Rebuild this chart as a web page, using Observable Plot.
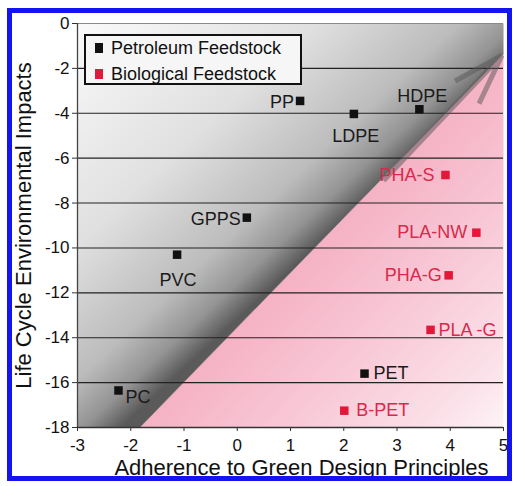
<!DOCTYPE html>
<html>
<head>
<meta charset="utf-8">
<script src="https://cdn.jsdelivr.net/npm/d3@7"></script>
<script src="https://cdn.jsdelivr.net/npm/@observablehq/plot@0.6"></script>
<style>
  html, body { margin: 0; padding: 0; background: #fff; }
  #wrap { position: relative; width: 514px; height: 486px; overflow: hidden; font-family: "Liberation Sans", Arial, sans-serif; }
  #frame { position: absolute; left: 7px; top: 8px; width: 495px; height: 463px; border: 5px solid #1414f0; pointer-events: none; }
  #legend { position: absolute; left: 84px; top: 34px; width: 214px; height: 47px; border: 2px solid #111; background: #f6f6f6; }
  .row { position: absolute; left: 0; height: 20px; font-size: 18px; line-height: 20px; color: #111; white-space: nowrap; }
  .sw { position: absolute; left: 9px; top: 5px; width: 8px; height: 10px; }
  .lab { position: absolute; left: 25px; top: 0; }
</style>
</head>
<body>
<div id="wrap">
  <div id="chart"></div>
  <div id="legend"></div>
  <div id="frame"></div>
</div>
<script>
// ---- data ----
const names      = ["PP", "LDPE", "HDPE", "GPPS", "PVC", "PC", "PET", "PHA-S", "PLA-NW", "PHA-G", "PLA -G", "B-PET"];
const adherence  = [1.18, 2.19, 3.42, 0.18, -1.13, -2.23, 2.39, 3.91, 4.49, 3.97, 3.63, 2.01];
const impacts    = [-3.45, -4.03, -3.82, -8.65, -10.3, -16.35, -15.6, -6.75, -9.32, -11.22, -13.65, -17.25];
const feedstock  = ["Petroleum", "Petroleum", "Petroleum", "Petroleum", "Petroleum", "Petroleum", "Petroleum",
                    "Biological", "Biological", "Biological", "Biological", "Biological"];
const seriesNames = ["Petroleum Feedstock", "Biological Feedstock"];
const xTicks = [-3, -2, -1, 0, 1, 2, 3, 4, 5];
const yTicks = [0, -2, -4, -6, -8, -10, -12, -14, -16, -18];
// dividing line between the two shaded regions
const divideX = [-1.83, 5];
const divideY = [-18, -1.35];
const trendArrow = [{x1: 2.75, y1: -7.0, x2: 4.97, y2: -1.42}];
const xLabel = "Adherence to Green Design Principles";
const yLabel = "Life Cycle Environmental Impacts";

const points = names.map((n, i) => ({name: n, x: adherence[i], y: impacts[i], type: feedstock[i]}));
const xMin = xTicks[0], xMax = xTicks[xTicks.length - 1];
const yMax = yTicks[0], yMin = yTicks[yTicks.length - 1];
const grayRegion = [
  {x: xMin, y: yMax}, {x: xMax, y: yMax}, {x: divideX[1], y: divideY[1]},
  {x: divideX[0], y: divideY[0]}, {x: xMin, y: yMin}
];
const pinkRegion = [
  {x: divideX[1], y: divideY[1]}, {x: xMax, y: yMin}, {x: divideX[0], y: divideY[0]}
];

const colors = {Petroleum: "#111111", Biological: "#e3173a"};
const labelColors = {Petroleum: "#1a1a1a", Biological: "#d72a4c"};
const font = "'Liberation Sans', Arial, sans-serif";

// label placements (style)
const leftOf  = ["PP", "GPPS", "PHA-S", "PLA-NW", "PHA-G"];
const rightOf = ["PLA -G", "PET", "B-PET"];
const offsets = {
  "PP": [-6, 1], "GPPS": [-6, 2], "PHA-S": [-11, 0], "PLA-NW": [-9, 0], "PHA-G": [-7, 0],
  "PLA -G": [8, 0], "PET": [9, 0], "B-PET": [12, 0],
  "LDPE": [2, 22], "PVC": [1, 26], "HDPE": [3, -13], "PC": [7, 7]
};

function polyArea(region, fill) {
  return Plot.line(region, {x: "x", y: "y", fill, stroke: "none", curve: "linear-closed"});
}

const labelMarks = names.map(n => {
  const p = points.find(d => d.name === n);
  const anchor = leftOf.includes(n) ? "end" : rightOf.includes(n) || n === "PC" ? "start" : "middle";
  return Plot.text([p], {
    x: "x", y: "y", text: "name", textAnchor: anchor,
    dx: offsets[n][0], dy: offsets[n][1],
    fill: labelColors[p.type], fontSize: 18, fontFamily: font
  });
});

const chart = Plot.plot({
  width: 514,
  height: 486,
  marginLeft: 77,
  marginRight: 11,
  marginTop: 23,
  marginBottom: 59,
  style: {fontFamily: font, background: "transparent"},
  x: {domain: [xMin, xMax]},
  y: {domain: [yMin, yMax]},
  marks: [
    polyArea(grayRegion, "url(#grayGrad)"),
    polyArea(pinkRegion, "url(#pinkGrad)"),
    Plot.line(divideX.map((x, i) => ({x, y: divideY[i]})), {x: "x", y: "y", stroke: "#555", strokeWidth: 1, strokeOpacity: 0.5}),
    Plot.ruleY(yTicks.filter(d => d !== yMax && d !== yMin), {stroke: "#222", strokeWidth: 1.1}),
    Plot.ruleY([yMax], {stroke: "#8a8a8a", strokeWidth: 1.2}),
    Plot.arrow(trendArrow, {x1: "x1", y1: "y1", x2: "x2", y2: "y2",
      stroke: "#555", strokeOpacity: 0.5, strokeWidth: 5, strokeLinecap: "butt", headAngle: 36, headLength: 16}),
    Plot.ruleX([xMin], {stroke: "#444", strokeWidth: 1.3}),
    Plot.ruleY([yMin], {stroke: "#333", strokeWidth: 1.3}),
    Plot.axisY({ticks: yTicks, tickSize: 5, tickPadding: 3, fontSize: 17, tickFormat: d => String(d), label: null, stroke: "#333", color: "#111"}),
    Plot.axisX({ticks: xTicks, tickSize: 4, tickPadding: 7, fontSize: 17, tickFormat: d => String(d), label: null, stroke: "#333", color: "#111"}),
    Plot.dot(points, {x: "x", y: "y", symbol: "square", r: 4.8, fill: d => colors[d.type], stroke: "none"}),
    ...labelMarks,
    Plot.text([xLabel], {text: d => d, frameAnchor: "bottom", textAnchor: "middle", lineAnchor: "middle", dx: 11, dy: 40, fontSize: 22, fill: "#111", fontFamily: font}),
    Plot.text([yLabel], {text: d => d, frameAnchor: "left", textAnchor: "middle", lineAnchor: "middle", rotate: -90, dx: -54, fontSize: 22, fill: "#111", fontFamily: font})
  ]
});

// gradient definitions
const defs = d3.select(chart).insert("defs", ":first-child");
const g1 = defs.append("linearGradient").attr("id", "grayGrad")
  .attr("x1", 0).attr("y1", 0).attr("x2", 0.55).attr("y2", 0.56);
[[0, "#fafafa"], [0.5, "#e0e0e0"], [0.8, "#bcbcbc"], [0.92, "#949494"], [1, "#5a5a5a"]]
  .forEach(([o, c]) => g1.append("stop").attr("offset", o).attr("stop-color", c));
const g2 = defs.append("linearGradient").attr("id", "pinkGrad")
  .attr("x1", 0.5).attr("y1", 0.5).attr("x2", 1).attr("y2", 1);
[[0, "#f5b2c5"], [0.4, "#f8c8d6"], [0.8, "#fbe1e9"], [1, "#fdf3f6"]]
  .forEach(([o, c]) => g2.append("stop").attr("offset", o).attr("stop-color", c));

document.getElementById("chart").appendChild(chart);

// legend
const legend = document.getElementById("legend");
seriesNames.forEach((s, i) => {
  const row = document.createElement("div");
  row.className = "row";
  row.style.top = (i === 0 ? 2 : 28) + "px";
  row.style.width = "100%";
  const sw = document.createElement("div");
  sw.className = "sw";
  sw.style.background = i === 0 ? colors.Petroleum : colors.Biological;
  const lab = document.createElement("div");
  lab.className = "lab";
  lab.textContent = s;
  row.appendChild(sw); row.appendChild(lab);
  legend.appendChild(row);
});
</script>
</body>
</html>
